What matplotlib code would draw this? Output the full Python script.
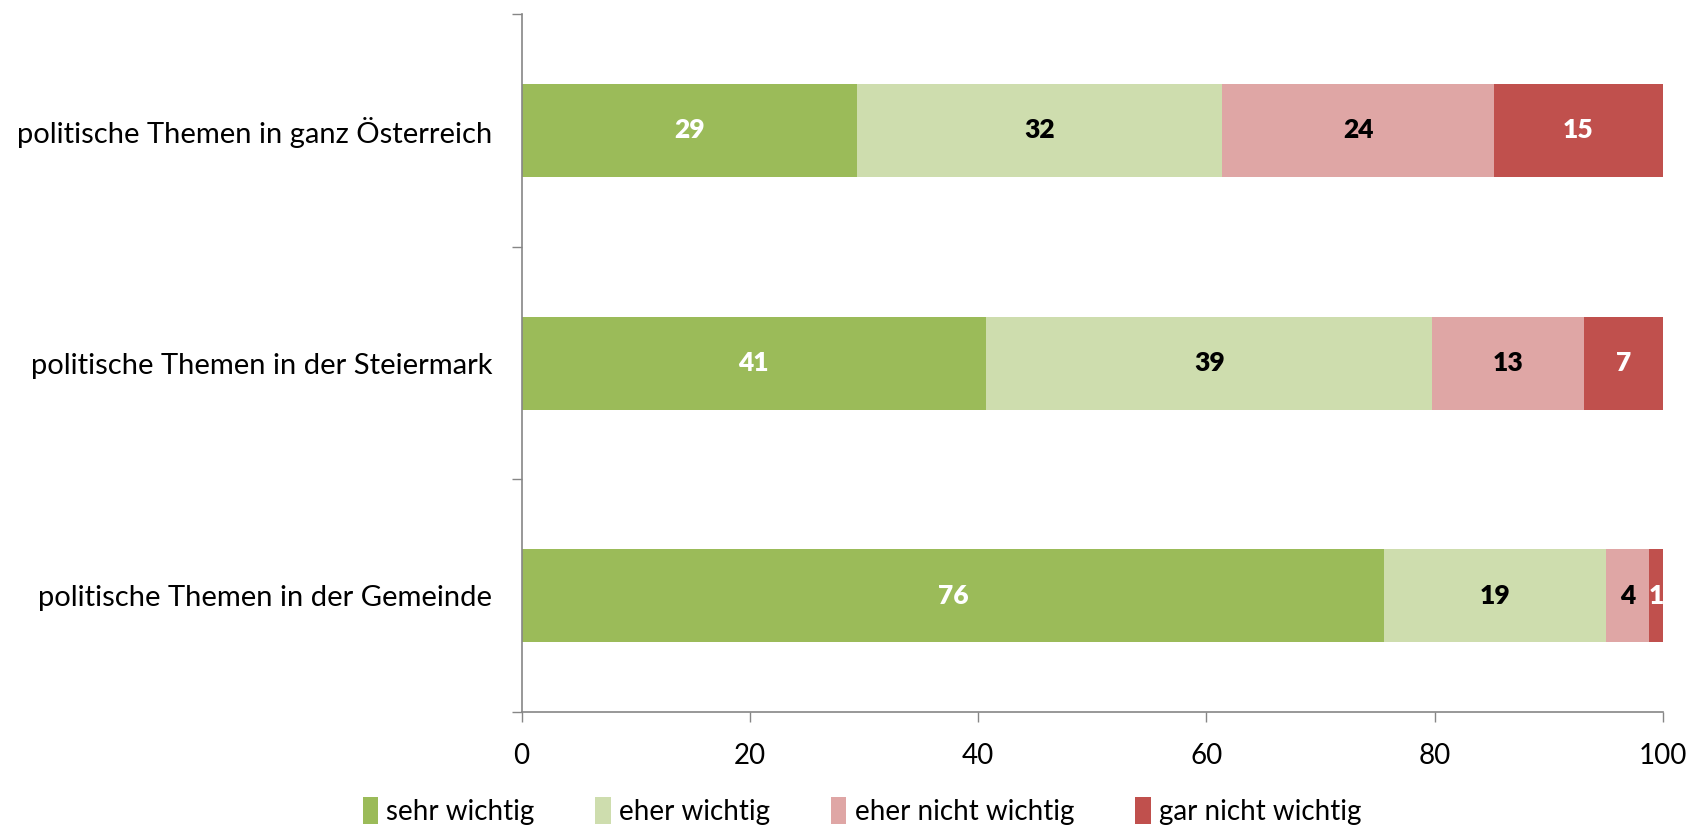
import matplotlib.pyplot as plt

# Kategorien (von oben nach unten)
kategorien = ["politische Themen in ganz Österreich",
              "politische Themen in der Steiermark",
              "politische Themen in der Gemeinde"]

# Anteile in Prozent
sehr_wichtig = [29.4, 40.7, 75.6]
eher_wichtig = [32.0, 39.1, 19.4]
eher_nicht_wichtig = [23.8, 13.3, 3.8]
gar_nicht_wichtig = [14.8, 6.9, 1.2]

serien_namen = ["sehr wichtig", "eher wichtig", "eher nicht wichtig", "gar nicht wichtig"]
farben = ["#9BBB59", "#CEDDAE", "#DFA6A5", "#C0504D"]
textfarben = ["white", "black", "black", "white"]

x_ticks = [0, 20, 40, 60, 80, 100]

plt.rcParams['font.family'] = ['Lato', 'DejaVu Sans']

fig = plt.figure(figsize=(16.9, 8.32), dpi=100)
ax = fig.add_axes([0.3086, 0.1442, 0.984 - 0.3086, 0.983 - 0.1442])

serien = [sehr_wichtig, eher_wichtig, eher_nicht_wichtig, gar_nicht_wichtig]
y = list(range(len(kategorien)))
links = [0] * len(kategorien)
handles = []
for werte, name, farbe, tf in zip(serien, serien_namen, farben, textfarben):
    bars = ax.barh(y, werte, left=links, height=0.4, color=farbe, label=name)
    handles.append(bars)
    # Werte beschriften
    ax.bar_label(bars, labels=["{:.0f}".format(w) for w in werte], label_type="center",
                 color=tf, fontsize=19, fontweight="heavy")
    links = [l + w for l, w in zip(links, werte)]

ax.set_xlim(0, 100)
ax.set_ylim(2.5, -0.5)
ax.set_xticks(x_ticks)
ax.set_xticklabels([str(t) for t in x_ticks], fontsize=20)
ax.tick_params(axis="x", length=7, width=1, color="#868686", pad=15)

# Striche an den Kategoriegrenzen, Beschriftung in der Mitte
ax.set_yticks([-0.5, 0.5, 1.5, 2.5])
ax.set_yticklabels([])
ax.set_yticks(y, minor=True)
ax.set_yticklabels(kategorien, minor=True, fontsize=21)
ax.tick_params(axis="y", which="major", length=7, width=1, color="#868686")
ax.tick_params(axis="y", which="minor", length=0, pad=21)

for s in ["top", "right"]:
    ax.spines[s].set_visible(False)
for s in ["left", "bottom"]:
    ax.spines[s].set_color("#868686")
    ax.spines[s].set_linewidth(1.2)

fig.legend(handles=handles, labels=serien_namen, loc="center", bbox_to_anchor=(0.51, 0.025),
           ncol=4, frameon=False, fontsize=20, handlelength=0.55, handleheight=1.1,
           handletextpad=0.3, columnspacing=2.2, borderpad=0.1)

plt.savefig("out.png", dpi=100)
